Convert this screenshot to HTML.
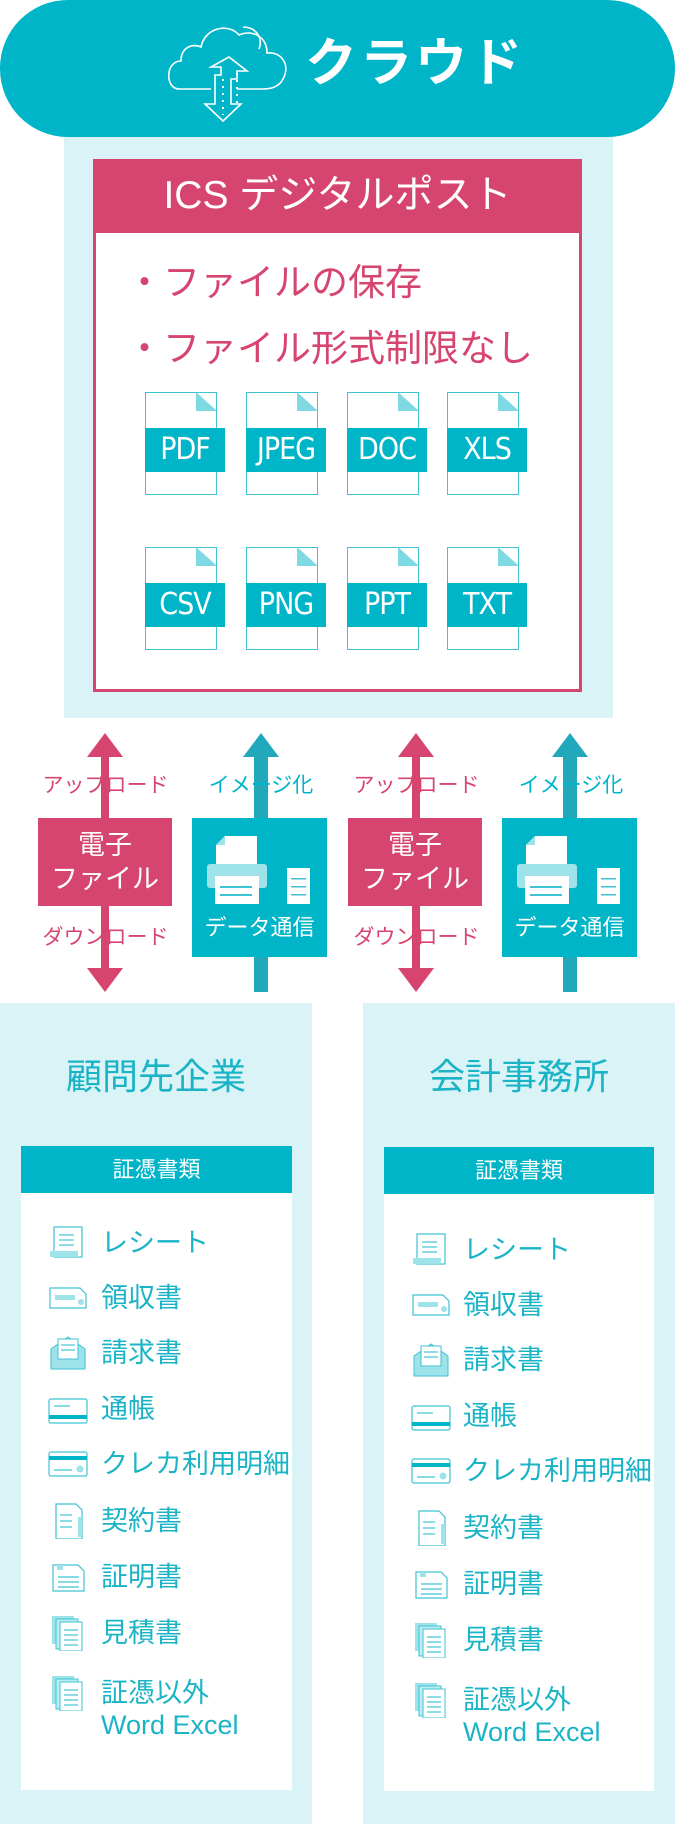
<!DOCTYPE html>
<html><head><meta charset="utf-8"><style>
*{margin:0;padding:0;box-sizing:border-box}
body{width:675px;height:1824px;position:relative;background:#fff;font-family:"Liberation Sans","Noto Sans CJK JP",sans-serif;overflow:hidden}
.a{position:absolute}
.c{text-align:center}
.fi{position:absolute;width:80px;height:103px}
.fi .pg{position:absolute;left:0;top:0;width:72px;height:103px;border:1.5px solid #3ec3d3;background:#fff}
.fi .cr{position:absolute;left:51px;top:0;width:21px;height:19px;background:#7fd9e3;clip-path:polygon(0 0,100% 100%,0 100%)}
.fi .bd{position:absolute;left:0;top:36px;width:80px;height:44px;background:#00b5c8;color:#fff;font-size:30px;line-height:44px;text-align:center;font-family:"DejaVu Sans Condensed","Liberation Sans Narrow",sans-serif;letter-spacing:-1px}
.lbl{position:absolute;font-size:21px;line-height:26px;text-align:center}
.it{position:absolute;font-size:27px;color:#1ab4c6;line-height:32px}
.ic{position:absolute;width:40px;height:36px}
</style></head><body>
<div class="a" style="left:64px;top:110px;width:549px;height:608px;background:#d9f3f6"></div>
<div class="a" style="left:0;top:0;width:675px;height:137px;background:#00b5c8;border-radius:68px"></div>
<svg class="a" style="left:163px;top:17px" width="132" height="106" viewBox="0 0 132 106">
<path d="M48 72 H16 C2 72 2 44 18 44 C18 30 30 26 38 30 C42 10 66 6 76 18 C90 12 104 20 104 36 C118 34 128 48 120 62 C116 70 108 72 100 72 H74" fill="none" stroke="#fff" stroke-width="1.6"/>
<path d="M80 10 C94 10 100 22 96 32" fill="none" stroke="#fff" stroke-width="1.6"/>
<path d="M60 104 L42 87 H52 V58 H58 V50 H48 L66 40 L84 54 H74 V62 H68 V87 H78 Z" fill="none" stroke="#fff" stroke-width="1.6"/>
<path d="M60 62 V98 M74 56 V86" stroke="#fff" stroke-width="2" stroke-dasharray="2 5"/>
</svg>
<div class="a" style="left:305px;top:31px;font-size:52px;font-weight:bold;color:#fff;line-height:66px;letter-spacing:3px">クラウド</div>
<div class="a" style="left:93px;top:159px;width:489px;height:533px;border:3px solid #d6456f;background:#fff"></div>
<div class="a c" style="left:93px;top:159px;width:489px;height:74px;background:#d6456f;color:#fff;font-size:39px;line-height:74px">ICS デジタルポスト</div>
<div class="a" style="left:126px;top:260px;font-size:37px;color:#d6456f;line-height:46px">・ファイルの保存</div>
<div class="a" style="left:126px;top:326px;font-size:37px;color:#d6456f;line-height:46px">・ファイル形式制限なし</div>
<div class="fi" style="left:145px;top:392px"><div class="pg"></div><div class="cr"></div><div class="bd">PDF</div></div>
<div class="fi" style="left:246px;top:392px"><div class="pg"></div><div class="cr"></div><div class="bd">JPEG</div></div>
<div class="fi" style="left:347px;top:392px"><div class="pg"></div><div class="cr"></div><div class="bd">DOC</div></div>
<div class="fi" style="left:447px;top:392px"><div class="pg"></div><div class="cr"></div><div class="bd">XLS</div></div>
<div class="fi" style="left:145px;top:547px"><div class="pg"></div><div class="cr"></div><div class="bd">CSV</div></div>
<div class="fi" style="left:246px;top:547px"><div class="pg"></div><div class="cr"></div><div class="bd">PNG</div></div>
<div class="fi" style="left:347px;top:547px"><div class="pg"></div><div class="cr"></div><div class="bd">PPT</div></div>
<div class="fi" style="left:447px;top:547px"><div class="pg"></div><div class="cr"></div><div class="bd">TXT</div></div>
<svg class="a" style="left:0;top:730px" width="675" height="270">
<g fill="#d6456f">
<polygon points="105,3 123,27 109,27 109,238 123,238 105,262 87,238 101,238 101,27 87,27"/>
<polygon points="416,3 434,27 420,27 420,238 434,238 416,262 398,238 412,238 412,27 398,27"/>
</g>
<g fill="#22a8bb">
<polygon points="261,3 279,27 268,27 268,262 254,262 254,27 243,27"/>
<polygon points="570,3 588,27 577,27 577,262 563,262 563,27 552,27"/>
</g>
</svg>
<div class="lbl" style="left:33px;top:773px;width:145px;color:#d6456f">アップロード</div>
<div class="lbl" style="left:194px;top:773px;width:134px;color:#00b5c8">イメージ化</div>
<div class="lbl" style="left:344px;top:773px;width:145px;color:#d6456f">アップロード</div>
<div class="lbl" style="left:504px;top:773px;width:134px;color:#00b5c8">イメージ化</div>
<div class="lbl" style="left:33px;top:925px;width:145px;color:#d6456f">ダウンロード</div>
<div class="lbl" style="left:344px;top:925px;width:145px;color:#d6456f">ダウンロード</div>
<div class="a c" style="left:38px;top:818px;width:134px;height:88px;background:#d6456f;color:#fff;font-size:27px;line-height:34px;padding-top:10px">電子<br>ファイル</div>
<div class="a c" style="left:348px;top:818px;width:134px;height:88px;background:#d6456f;color:#fff;font-size:27px;line-height:34px;padding-top:10px">電子<br>ファイル</div>
<div class="a" style="left:192px;top:818px;width:135px;height:139px;background:#00b5c8"></div>
<div class="a" style="left:502px;top:818px;width:135px;height:139px;background:#00b5c8"></div>
<svg class="a" style="left:207px;top:836px" width="110" height="72"><polygon points="18,0 50,0 50,28 9,28 9,9" fill="#fff"/><polygon points="9,9 18,0 18,9" fill="#9ee3ea"/><rect x="0" y="28" width="60" height="24" rx="3" fill="#9ee3ea"/><rect x="8" y="40" width="44" height="28" fill="#fff"/><rect x="13" y="50" width="32" height="2" fill="#3ec3d3"/><rect x="13" y="58" width="32" height="2" fill="#3ec3d3"/><rect x="80" y="32" width="23" height="36" fill="#fff"/><rect x="84" y="42" width="15" height="1.5" fill="#3ec3d3"/><rect x="84" y="50" width="15" height="1.5" fill="#3ec3d3"/><rect x="84" y="58" width="15" height="1.5" fill="#3ec3d3"/></svg>
<svg class="a" style="left:517px;top:836px" width="110" height="72"><polygon points="18,0 50,0 50,28 9,28 9,9" fill="#fff"/><polygon points="9,9 18,0 18,9" fill="#9ee3ea"/><rect x="0" y="28" width="60" height="24" rx="3" fill="#9ee3ea"/><rect x="8" y="40" width="44" height="28" fill="#fff"/><rect x="13" y="50" width="32" height="2" fill="#3ec3d3"/><rect x="13" y="58" width="32" height="2" fill="#3ec3d3"/><rect x="80" y="32" width="23" height="36" fill="#fff"/><rect x="84" y="42" width="15" height="1.5" fill="#3ec3d3"/><rect x="84" y="50" width="15" height="1.5" fill="#3ec3d3"/><rect x="84" y="58" width="15" height="1.5" fill="#3ec3d3"/></svg>
<div class="lbl" style="left:192px;top:915px;width:135px;color:#fff;font-size:22px">データ通信</div>
<div class="lbl" style="left:502px;top:915px;width:135px;color:#fff;font-size:22px">データ通信</div>
<div class="a" style="left:0;top:1003px;width:312px;height:821px;background:#d9f3f6"></div>
<div class="a" style="left:363px;top:1003px;width:312px;height:821px;background:#d9f3f6"></div>
<div class="a c" style="left:0;top:1055px;width:312px;font-size:36px;color:#1ab4c6;line-height:44px">顧問先企業</div>
<div class="a c" style="left:363px;top:1055px;width:312px;font-size:36px;color:#1ab4c6;line-height:44px">会計事務所</div>
<div class="a" style="left:21px;top:1146px;width:271px;height:644px;background:#fff"></div>
<div class="a c" style="left:21px;top:1146px;width:271px;height:47px;background:#00b5c8;color:#fff;font-size:22px;line-height:47px">証憑書類</div>
<div class="a" style="left:384px;top:1147px;width:270px;height:644px;background:#fff"></div>
<div class="a c" style="left:384px;top:1147px;width:270px;height:47px;background:#00b5c8;color:#fff;font-size:22px;line-height:47px">証憑書類</div>
<div id="L"></div>
<script>
var items=["レシート","領収書","請求書","通帳","クレカ利用明細","契約書","証明書","見積書","証憑以外<br>Word Excel"];
var ys=[1243,1298,1353,1409,1464,1521,1577,1633,1693];
function icon(i){var s='<svg width="40" height="36" viewBox="0 0 40 36">';var st='fill="none" stroke="#3ec3d3" stroke-width="1.2"';
if(i==0)s+='<rect x="6" y="2" width="28" height="30" '+st+'/><rect x="2" y="26" width="28" height="6" fill="#9ee3ea"/><line x1="11" y1="10" x2="26" y2="10" '+st+'/><line x1="11" y1="15" x2="26" y2="15" '+st+'/><line x1="11" y1="20" x2="26" y2="20" '+st+'/>';
else if(i==1)s+='<path d="M2 8 H32 L38 14 V28 H2 Z" '+st+'/><rect x="7" y="15" width="20" height="5" fill="#9ee3ea"/><circle cx="33" cy="22" r="3" fill="#9ee3ea"/>';
else if(i==2)s+='<path d="M3 14 V34 H37 V14 L20 2 Z" fill="#9ee3ea" stroke="#3ec3d3"/><rect x="10" y="4" width="20" height="20" fill="#fff" stroke="#3ec3d3"/><line x1="13" y1="10" x2="27" y2="10" '+st+'/><line x1="13" y1="15" x2="27" y2="15" '+st+'/>';
else if(i==3)s+='<rect x="1" y="8" width="38" height="24" rx="2" '+st+'/><rect x="1" y="24" width="38" height="4" fill="#00b5c8"/><line x1="6" y1="15" x2="22" y2="15" '+st+'/>';
else if(i==4)s+='<rect x="1" y="6" width="38" height="24" rx="2" '+st+'/><rect x="1" y="10" width="38" height="4" fill="#00b5c8"/><circle cx="32" cy="23" r="3.5" fill="#9ee3ea"/><line x1="6" y1="24" x2="24" y2="24" '+st+'/>';
else if(i==5)s+='<path d="M8 1 H28 L34 7 V36 H8 Z" '+st+'/><rect x="30" y="14" width="4" height="20" fill="#9ee3ea"/><line x1="12" y1="12" x2="24" y2="12" '+st+'/><line x1="12" y1="18" x2="24" y2="18" '+st+'/><line x1="12" y1="24" x2="24" y2="24" '+st+'/>';
else if(i==6)s+='<path d="M5 6 H30 L36 12 V32 H5 Z" '+st+'/><rect x="9" y="6" width="6" height="5" fill="#9ee3ea"/><line x1="10" y1="18" x2="31" y2="18" '+st+'/><line x1="10" y1="23" x2="31" y2="23" '+st+'/><line x1="10" y1="28" x2="31" y2="28" '+st+'/>';
else s+='<rect x="4" y="1" width="22" height="28" fill="#9ee3ea"/><rect x="8" y="4" width="22" height="30" fill="#bfecf1" stroke="#3ec3d3"/><rect x="12" y="7" width="22" height="29" fill="#fff" stroke="#3ec3d3"/><line x1="16" y1="15" x2="30" y2="15" '+st+'/><line x1="16" y1="20" x2="30" y2="20" '+st+'/><line x1="16" y1="25" x2="30" y2="25" '+st+'/><line x1="16" y1="30" x2="30" y2="30" '+st+'/>';
return s+'</svg>';}
var h='';
for(var i=0;i<9;i++){[[48,101,0],[411,463,7]].forEach(function(p){var y=ys[i]+p[2];
h+='<div class="ic" style="left:'+p[0]+'px;top:'+(y-18)+'px">'+icon(i)+'</div>';
h+='<div class="it" style="left:'+p[1]+'px;top:'+(y-16)+'px">'+items[i]+'</div>';});}
document.getElementById('L').innerHTML=h;
</script>
</body></html>
